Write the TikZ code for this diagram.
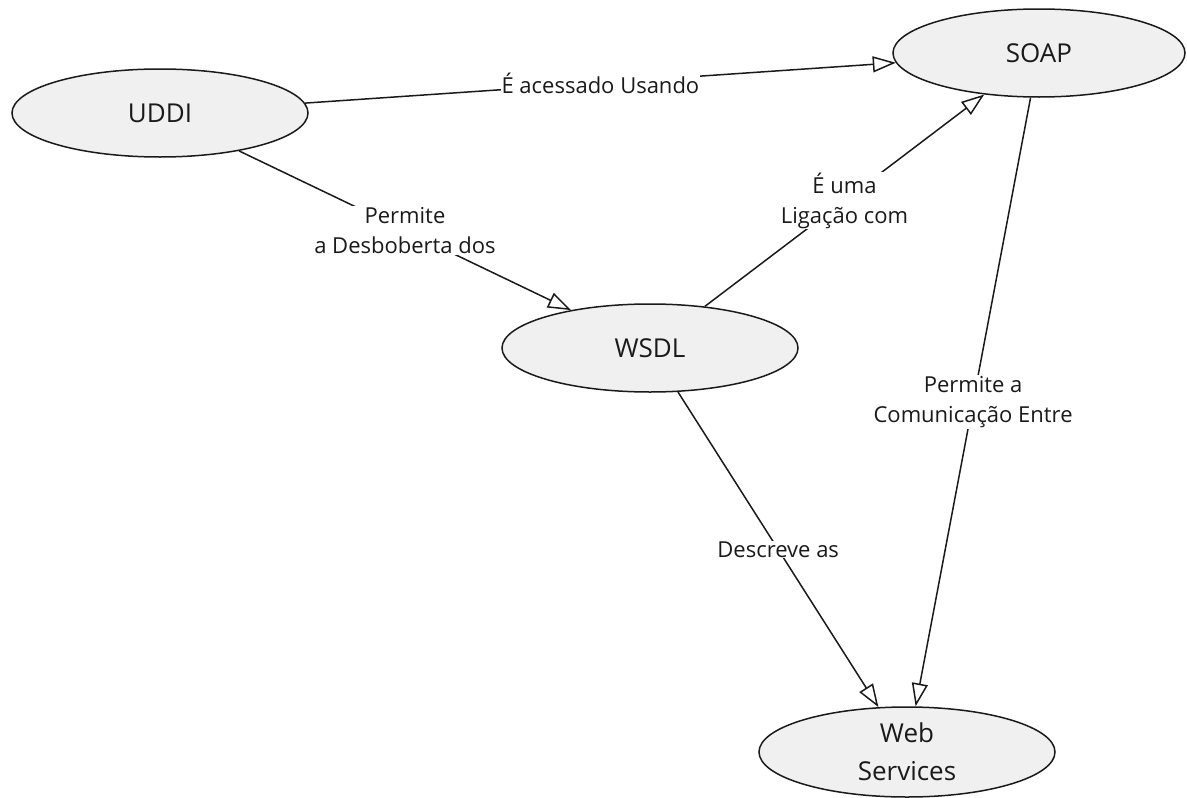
\documentclass[tikz,border=0pt]{standalone}
\usepackage{fontspec}
\setmainfont{Open Sans}
\usetikzlibrary{shapes.geometric,arrows.meta}
\definecolor{nodefill}{HTML}{F0F0F0}
\definecolor{ink}{HTML}{1A1A1A}
\tikzset{
  concept/.style={ellipse, draw=ink, line width=1.5pt, fill=nodefill, inner sep=0pt,
    minimum width=296pt, minimum height=88pt, align=center,
    font=\fontsize{26}{38}\selectfont, text=ink},
  link/.style={draw=ink, line width=1.5pt,
    -{Triangle[length=23pt, width=16pt, fill=white, line width=1.5pt]}},
  lbl/.style={fill=white, inner sep=1pt, align=center,
    font=\fontsize{22}{30}\selectfont, text=ink}
}
\begin{document}
\begin{tikzpicture}[x=1pt, y=-1pt]
\useasboundingbox (0,0) rectangle (1187,798);
\node[concept] (uddi) at (160,113) {UDDI};
\node[concept, minimum width=292pt] (soap) at (1039,53) {SOAP};
\node[concept] (wsdl) at (650,348) {WSDL};
\node[concept, minimum height=90pt] (ws) at (907,752) {Web\\Services};
\draw[link] (uddi) -- node[lbl] {É acessado Usando} (soap);
\draw[link] (uddi) -- node[lbl] {Permite\\a Desboberta dos} (wsdl);
\draw[link] (wsdl) -- node[lbl] {É uma\\Ligação com} (soap);
\draw[link] (soap) -- node[lbl] {Permite a\\Comunicação Entre} (ws);
\draw[link] (wsdl) -- node[lbl] {Descreve as} (ws);
\end{tikzpicture}
\end{document}
